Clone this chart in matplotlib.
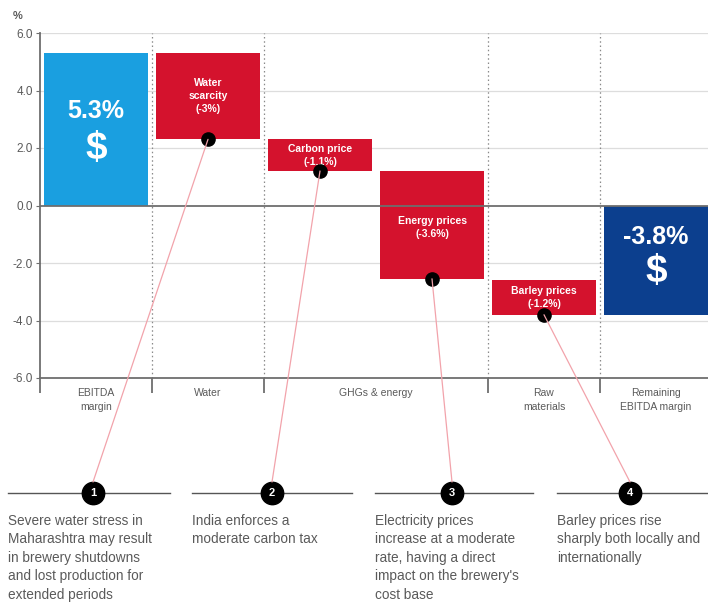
import matplotlib
matplotlib.use("Agg")
import matplotlib.pyplot as plt
from matplotlib.patches import ConnectionPatch

plt.rcParams['font.family'] = ['Liberation Sans', 'DejaVu Sans']

# ---- data ----
categories = ["EBITDA\nmargin", "Water", "GHGs & energy", "Raw\nmaterials", "Remaining\nEBITDA margin"]
category_centers = [0.5, 1.5, 3.0, 4.5, 5.5]
column_bounds = [0, 1, 2, 4, 5]

bar_positions = [0.5, 1.5, 2.5, 3.5, 4.5, 5.5]
bar_top = [5.3, 5.3, 2.3, 1.2, -2.6, 0.0]
bar_bottom = [0.0, 2.3, 1.2, -2.55, -3.8, -3.8]
bar_kind = ["start", "impact", "impact", "impact", "impact", "end"]

impact_labels = ["Water\nscarcity\n(-3%)", "Carbon price\n(-1.1%)",
                 "Energy prices\n(-3.6%)", "Barley prices\n(-1.2%)"]
start_label = "5.3%"
end_label = "-3.8%"

yticks = [6.0, 4.0, 2.0, 0.0, -2.0, -4.0, -6.0]

notes = [
    "Severe water stress in\nMaharashtra may result\nin brewery shutdowns\nand lost production for\nextended periods",
    "India enforces a\nmoderate carbon tax",
    "Electricity prices\nincrease at a moderate\nrate, having a direct\nimpact on the brewery's\ncost base",
    "Barley prices rise\nsharply both locally and\ninternationally",
]

# ---- colours ----
C_START = "#1a9fe0"
C_IMPACT = "#d4122d"
C_END = "#0c3f8e"
C_TEXT = "#5a5a5a"
C_AXIS = "#6e6e6e"
C_GRID = "#dddddd"
C_PINK = "#f2a3ab"

W, H = 708, 603
fig = plt.figure(figsize=(W / 100, H / 100), dpi=100)

# main chart axes (pixel-based placement)
ax_left, ax_right, ax_top, ax_bot = 40, 708, 33, 378
ax = fig.add_axes([ax_left / W, (H - ax_bot) / H, (ax_right - ax_left) / W, (ax_bot - ax_top) / H])
ax.set_xlim(0, (ax_right - ax_left) / 112.0)
ax.set_ylim(-6, 6)
ax.patch.set_alpha(0)

# grid
for y in yticks:
    if y in (0.0, -6.0):
        continue
    ax.axhline(y, color=C_GRID, lw=0.9, zorder=0)
for xb in column_bounds[1:]:
    ax.axvline(xb, color="#8a8a8a", lw=0.9, ls=(0, (1.2, 2.2)), zorder=0)
ax.axhline(0, color=C_AXIS, lw=1.3, zorder=3)

# bars
colors = {"start": C_START, "impact": C_IMPACT, "end": C_END}
for x, t, b, k in zip(bar_positions, bar_top, bar_bottom, bar_kind):
    ax.bar(x, t - b, bottom=b, width=0.92, color=colors[k], zorder=2, linewidth=0)

# start / end labels
ax.text(bar_positions[0], 3.3, start_label, color="white", fontsize=18, fontweight="bold",
        ha="center", va="center", zorder=4)
ax.text(bar_positions[0], 1.95, "$", color="white", fontsize=28, fontweight="bold",
        ha="center", va="center", zorder=4)
ax.text(bar_positions[-1], -1.1, end_label, color="white", fontsize=18, fontweight="bold",
        ha="center", va="center", zorder=4)
ax.text(bar_positions[-1], -2.3, "$", color="white", fontsize=28, fontweight="bold",
        ha="center", va="center", zorder=4)

# impact labels
label_y = [3.8, 1.74, -0.77, -3.2]
for i, lab in enumerate(impact_labels):
    ax.text(bar_positions[i + 1], label_y[i], lab, color="white", fontsize=7.5,
            fontweight="bold", ha="center", va="center", linespacing=1.35, zorder=4)

# dots at bottom centre of impact bars
imp_x = bar_positions[1:5]
imp_b = bar_bottom[1:5]
ax.plot(imp_x, imp_b, "o", color="black", markersize=9.5, zorder=6, clip_on=False)

# axes styling
for s in ("top", "right"):
    ax.spines[s].set_visible(False)
for s in ("left", "bottom"):
    ax.spines[s].set_color(C_AXIS)
    ax.spines[s].set_linewidth(1.3)
ax.set_yticks(yticks)
ax.set_yticklabels([f"{v:.1f}" for v in yticks], color=C_TEXT, fontsize=8.5)
ax.tick_params(axis="y", length=3, color=C_AXIS, pad=2)
ax.set_xticks(column_bounds)
ax.set_xticklabels([])
ax.tick_params(axis="x", which="major", length=11, width=1.3, color=C_AXIS)
ax.set_xticks(category_centers, minor=True)
ax.set_xticklabels(categories, minor=True, color=C_TEXT, fontsize=7.5, linespacing=1.5)
ax.tick_params(axis="x", which="minor", length=0, pad=7)

fig.text(18 / W, 1 - 16 / H, "%", color=C_TEXT, fontsize=8, fontweight="bold",
         ha="center", va="center")

# overlay axes in pixel coordinates for the note section
ov = fig.add_axes([0, 0, 1, 1], zorder=-1)
ov.set_xlim(0, W)
ov.set_ylim(H, 0)
ov.axis("off")

circle_x = [93, 272, 452, 630]
circle_y = 493
rule_spans = [(8, 170), (192, 352), (375, 533), (557, 708)]

for i in range(4):
    x0, x1 = rule_spans[i]
    ov.plot([x0, x1], [circle_y, circle_y], color="#555555", lw=1.0, zorder=1)
    ov.scatter([circle_x[i]], [circle_y], s=260, color="black", zorder=3)
    ov.text(circle_x[i], circle_y, str(i + 1), color="white", fontsize=8,
            fontweight="bold", ha="center", va="center", zorder=4)
    ov.text(x0, 514, notes[i], color=C_TEXT, fontsize=9.8, ha="left", va="top",
            linespacing=1.40)
    con = ConnectionPatch(xyA=(imp_x[i], imp_b[i]), coordsA=ax.transData,
                          xyB=(circle_x[i], circle_y - 11), coordsB=ov.transData,
                          color=C_PINK, lw=0.9, zorder=5)
    fig.add_artist(con)

fig.savefig("out.png", dpi=100)
